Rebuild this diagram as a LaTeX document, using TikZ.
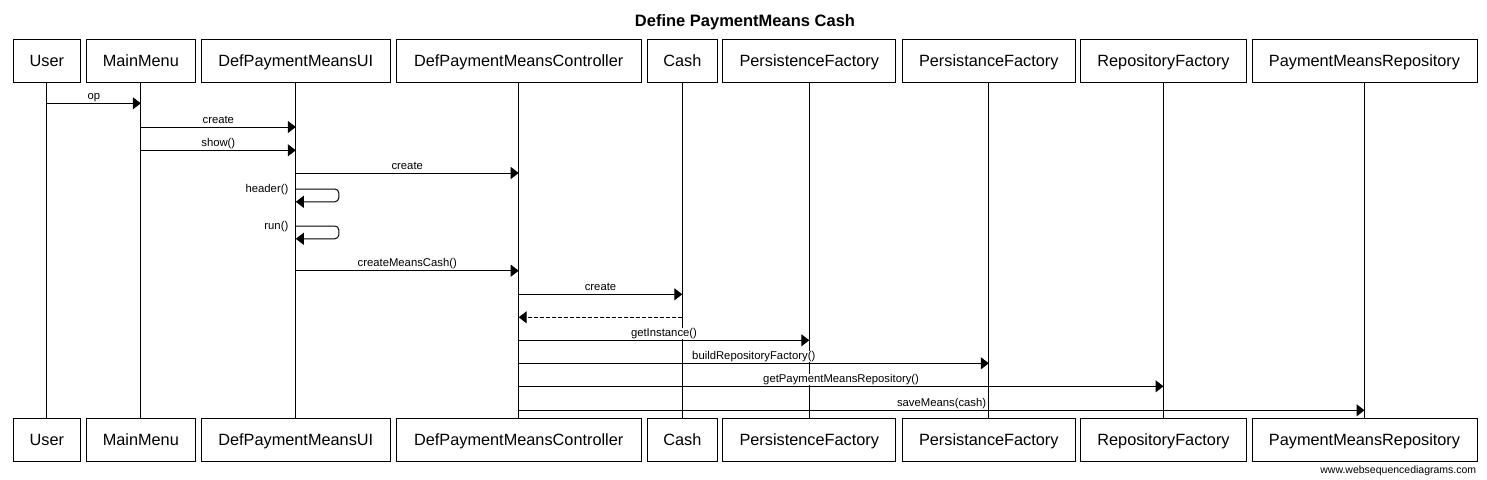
\documentclass[tikz,border=0pt]{standalone}
\usepackage{fontspec}
\setmainfont{Liberation Sans}
\usetikzlibrary{arrows.meta,calc}
\begin{document}
\begin{tikzpicture}[x=1pt,y=-1pt,line width=1pt,
  actor/.style={draw=black,fill=white,line width=1pt,inner sep=0pt,minimum height=43pt,
    font=\fontsize{16.3}{19}\selectfont,text height=11.7pt,text depth=0pt},
  msg/.style={draw=black,line width=1pt,-{Triangle[length=8pt,width=12pt]}},
  ret/.style={msg,dash pattern=on 4pt off 2pt},
  lbl/.style={font=\fontsize{11.3}{13}\selectfont,inner sep=0.5pt,fill=white,anchor=base,yshift=4pt},
  slbl/.style={font=\fontsize{11.3}{13}\selectfont,inner sep=0pt,anchor=base east},
  life/.style={draw=black,line width=1pt}]
\useasboundingbox (0,0) rectangle (1487,479);
\fill[white] (0,0) rectangle (1487,479);
\node[font=\bfseries\fontsize{16.5}{19}\selectfont,anchor=base,inner sep=0pt] (title) at (745,26) {Define PaymentMeans Cash};
% top actors
\node[actor,minimum width=67pt]    (userT) at (46.8,60.8) {User};
\node[actor,minimum width=109pt]   (menuT) at (140.8,60.8) {MainMenu};
\node[actor,minimum width=189pt]   (uiT)   at (295.8,60.8) {DefPaymentMeansUI};
\node[actor,minimum width=245.3pt] (ctrlT) at (518.7,60.8) {DefPaymentMeansController};
\node[actor,minimum width=70pt]    (cashT) at (682.3,60.8) {Cash};
\node[actor,minimum width=173.3pt] (pfT)   at (809.3,60.8) {PersistenceFactory};
\node[actor,minimum width=173pt]   (paT)   at (988.8,60.8) {PersistanceFactory};
\node[actor,minimum width=166.4pt] (rfT)   at (1163.5,60.8) {RepositoryFactory};
\node[actor,minimum width=225pt]   (pmrT)  at (1364.5,60.8) {PaymentMeansRepository};
% bottom actors
\node[actor,minimum width=67pt]    (userB) at (46.8,439.5) {User};
\node[actor,minimum width=109pt]   (menuB) at (140.8,439.5) {MainMenu};
\node[actor,minimum width=189pt]   (uiB)   at (295.8,439.5) {DefPaymentMeansUI};
\node[actor,minimum width=245.3pt] (ctrlB) at (518.7,439.5) {DefPaymentMeansController};
\node[actor,minimum width=70pt]    (cashB) at (682.3,439.5) {Cash};
\node[actor,minimum width=173.3pt] (pfB)   at (809.3,439.5) {PersistenceFactory};
\node[actor,minimum width=173pt]   (paB)   at (988.8,439.5) {PersistanceFactory};
\node[actor,minimum width=166.4pt] (rfB)   at (1163.5,439.5) {RepositoryFactory};
\node[actor,minimum width=225pt]   (pmrB)  at (1364.5,439.5) {PaymentMeansRepository};
% lifelines
\foreach \a in {user,menu,ui,ctrl,cash,pf,pa,rf,pmr}{\draw[life] (\a T.south) -- (\a B.north);}
% message rows
\coordinate (m1) at (0,103.3);
\coordinate (m2) at (0,127);
\coordinate (m3) at (0,150.3);
\coordinate (m4) at (0,173);
\coordinate (m5) at (0,189);
\coordinate (m5b) at (0,201.8);
\coordinate (m6) at (0,226);
\coordinate (m6b) at (0,238.8);
\coordinate (m7) at (0,270.7);
\coordinate (m8) at (0,294.3);
\coordinate (m9) at (0,317.3);
\coordinate (m10) at (0,340.3);
\coordinate (m11) at (0,363.3);
\coordinate (m12) at (0,386.3);
\coordinate (m13) at (0,410.3);
% messages
\draw[msg] (userT |- m1) -- node[lbl] {op} (menuT |- m1);
\draw[msg] (menuT |- m2) -- node[lbl] {create} (uiT |- m2);
\draw[msg] (menuT |- m3) -- node[lbl] {show()} (uiT |- m3);
\draw[msg] (uiT |- m4) -- node[lbl] {create} (ctrlT |- m4);
\draw[msg,rounded corners=4pt] (uiT |- m5) -- ++(43,0) -- ++(0,12.8) -- (uiT |- m5b);
\node[slbl] (hdr) at ($(uiT |- m5)+(-7,3.7)$) {header()};
\draw[msg,rounded corners=4pt] (uiT |- m6) -- ++(43,0) -- ++(0,12.8) -- (uiT |- m6b);
\node[slbl] (runl) at ($(uiT |- m6)+(-7,3.7)$) {run()};
\draw[msg] (uiT |- m7) -- node[lbl] {createMeansCash()} (ctrlT |- m7);
\draw[msg] (ctrlT |- m8) -- node[lbl] {create} (cashT |- m8);
\draw[ret] (cashT |- m9) -- (ctrlT |- m9);
\draw[msg] (ctrlT |- m10) -- node[lbl] {getInstance()} (pfT |- m10);
\draw[msg] (ctrlT |- m11) -- node[lbl] {buildRepositoryFactory()} (paT |- m11);
\draw[msg] (ctrlT |- m12) -- node[lbl] {getPaymentMeansRepository()} (rfT |- m12);
\draw[msg] (ctrlT |- m13) -- node[lbl] {saveMeans(cash)} (pmrT |- m13);
\node[font=\fontsize{10.5}{12}\selectfont,anchor=base east,inner sep=0pt] (foot) at (1476.7,473.5) {www.websequencediagrams.com};
\end{tikzpicture}
\end{document}
